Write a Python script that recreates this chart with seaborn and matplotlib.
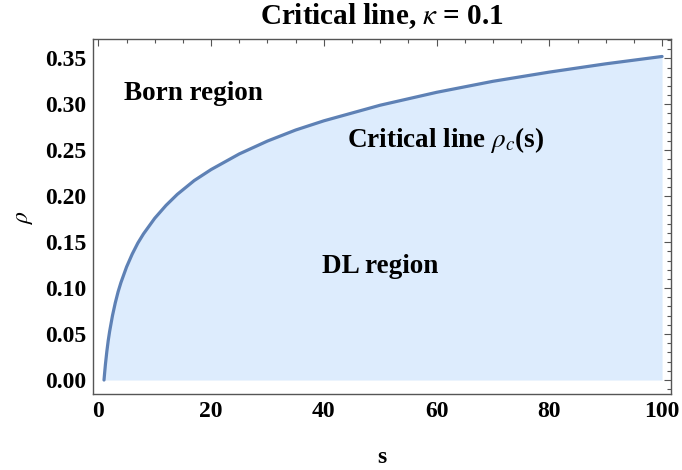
import numpy as np
import pandas as pd
import seaborn as sns
import matplotlib
matplotlib.use("Agg")
import matplotlib.pyplot as plt
from matplotlib.ticker import MultipleLocator, FormatStrFormatter

# Critical line rho_c(s) for kappa = 0.1
s_vals = [1, 1.1, 1.25, 1.5, 1.75, 2, 2.5, 3, 3.5, 4, 5, 6, 7, 8, 10, 12, 14, 17,
          20, 25, 30, 35, 40, 50, 60, 70, 80, 90, 100]
rho_vals = [0.0, 0.007, 0.017, 0.031, 0.043, 0.053, 0.070, 0.084, 0.096, 0.106,
            0.123, 0.137, 0.149, 0.159, 0.176, 0.190, 0.202, 0.217,
            0.229, 0.246, 0.260, 0.272, 0.282, 0.299, 0.313, 0.325, 0.335, 0.344, 0.352]

x_ticks = [0, 20, 40, 60, 80, 100]
y_ticks = [0.00, 0.05, 0.10, 0.15, 0.20, 0.25, 0.30, 0.35]

region_labels = ["Born region", r"Critical line $\rho_c$(s)", "DL region"]
region_pos = [(16.9, 0.312), (61.7, 0.261), (50.0, 0.123)]

df = pd.DataFrame({"s": s_vals, "rho": rho_vals})

sns.set_theme(style="white")
plt.rcParams["font.family"] = ["Liberation Serif", "DejaVu Serif"]
plt.rcParams["mathtext.fontset"] = "stix"
plt.rcParams["text.color"] = "black"
plt.rcParams["axes.labelcolor"] = "black"
plt.rcParams["xtick.labelcolor"] = "black"
plt.rcParams["ytick.labelcolor"] = "black"

fig = plt.figure(figsize=(6.82, 4.70), dpi=100)
ax = fig.add_axes([0.1368, 0.1617, 0.8472, 0.7547])

line_color = "#5e81b5"
fill_color = "#ddecfd"

ax.fill_between(df["s"], 0, df["rho"], color=fill_color, linewidth=0, zorder=1)
sns.lineplot(data=df, x="s", y="rho", ax=ax, color=line_color, linewidth=2.3,
             zorder=3, sort=False)

ax.set_xlim(-0.9, 101.6)
ax.set_ylim(-0.0152, 0.3707)

ax.set_xticks(x_ticks)
ax.set_yticks(y_ticks)
ax.xaxis.set_minor_locator(MultipleLocator(5))
ax.yaxis.set_minor_locator(MultipleLocator(0.01))
ax.yaxis.set_major_formatter(FormatStrFormatter("%.2f"))

frame_color = "#555555"
for sp in ax.spines.values():
    sp.set_visible(True)
    sp.set_color(frame_color)
    sp.set_linewidth(1.0)

ax.tick_params(axis="both", which="both", direction="in", top=True, right=True,
               color=frame_color, width=0.8)
ax.tick_params(axis="both", which="major", length=5, labelsize=17, pad=5)
ax.tick_params(axis="both", which="minor", length=3)
for lab in ax.get_xticklabels() + ax.get_yticklabels():
    lab.set_fontweight("bold")

ax.set_xlabel("s", fontsize=17, fontweight="bold", labelpad=18)
ax.set_ylabel(r"$\rho$", fontsize=17, labelpad=7)
ax.set_title(r"Critical line, $\kappa$ = 0.1", fontsize=21, fontweight="bold", pad=11)

for txt, (xs, ys) in zip(region_labels, region_pos):
    ax.text(xs, ys, txt, fontsize=19.5, fontweight="bold", ha="center", va="center",
            zorder=4)

fig.savefig("out.png", dpi=100)
